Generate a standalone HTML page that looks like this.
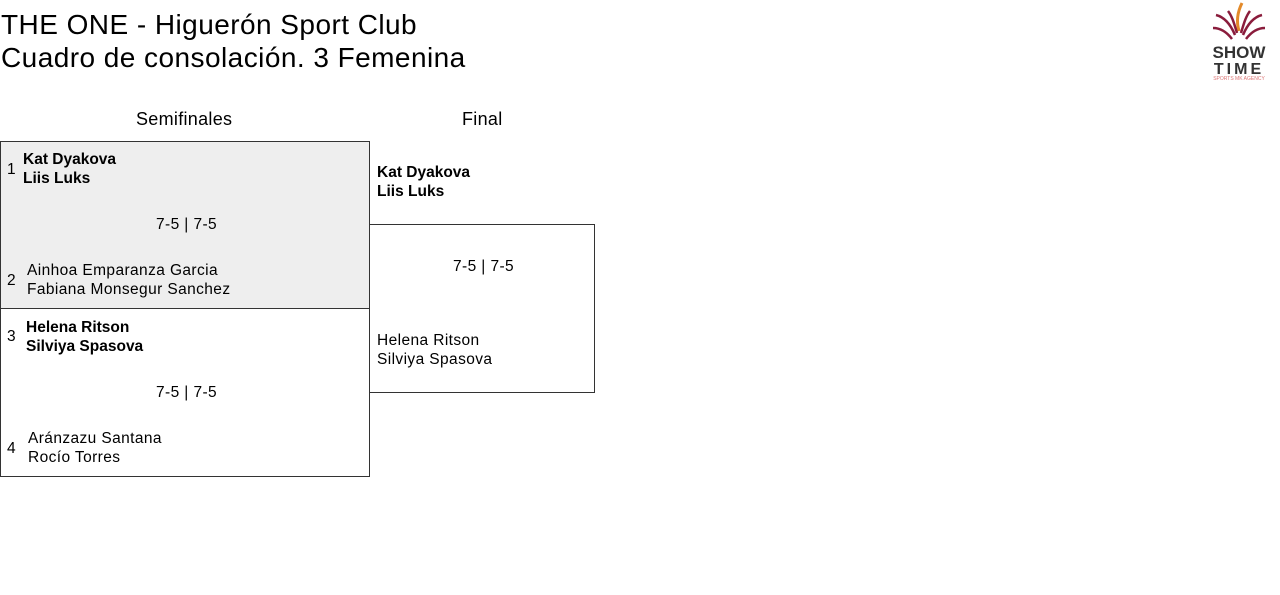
<!DOCTYPE html>
<html><head><meta charset="utf-8"><style>
body{margin:0;width:1280px;height:595px;background:#fff;font-family:"Liberation Sans",sans-serif;color:#000;position:relative;overflow:hidden}
.a{position:absolute;white-space:nowrap}
.t{font-size:28px;left:1px;line-height:33px;letter-spacing:0.45px}
.n{font-size:15.5px;line-height:19px;letter-spacing:0.4px}
.b{font-weight:bold;letter-spacing:0}
.h{font-size:18px;letter-spacing:0.3px}
.box{position:absolute;border:1px solid #333;box-sizing:border-box}
</style></head><body>
<div class="a t" style="top:8px">THE ONE - Higuerón Sport Club</div>
<div class="a t" style="top:41px">Cuadro de consolación. 3 Femenina</div>

<svg class="a" style="left:1208px;top:1px" width="62" height="80" viewBox="0 0 62 80">
<path d="M31 30 C28 20 30 10 34 2" stroke="#e38a2a" stroke-width="3" fill="none"/>
<path d="M27 34 C22 22 16 16 8 14" stroke="#8a1c3c" stroke-width="2.5" fill="none"/>
<path d="M24 38 C18 30 12 27 5 27" stroke="#8a1c3c" stroke-width="2.5" fill="none"/>
<path d="M29 32 C26 22 24 15 20 10" stroke="#8a1c3c" stroke-width="2.5" fill="none"/>
<path d="M35 34 C40 22 46 16 54 14" stroke="#8a1c3c" stroke-width="2.5" fill="none"/>
<path d="M38 38 C44 30 50 27 57 27" stroke="#8a1c3c" stroke-width="2.5" fill="none"/>
<path d="M33 32 C36 22 38 15 42 10" stroke="#8a1c3c" stroke-width="2.5" fill="none"/>
<text x="31" y="57" text-anchor="middle" font-family="Liberation Sans" font-weight="bold" font-size="17" fill="#333">SHOW</text>
<text x="31" y="73" text-anchor="middle" font-family="Liberation Sans" font-weight="bold" font-size="16" fill="#333" letter-spacing="3">TIME</text>
<text x="31" y="79" text-anchor="middle" font-family="Liberation Sans" font-size="5" fill="#d77">SPORTS MK AGENCY</text>
</svg>

<div class="a h" style="left:136px;top:109px">Semifinales</div>
<div class="a h" style="left:462px;top:109px">Final</div>

<div class="box" style="left:0;top:141px;width:370px;height:168px;background:#eee"></div>
<div class="box" style="left:0;top:308px;width:370px;height:169px"></div>
<div class="box" style="left:369px;top:224px;width:226px;height:169px"></div>

<div class="a n" style="left:7px;top:160px">1</div>
<div class="a n b" style="left:23px;top:150px">Kat Dyakova<br>Liis Luks</div>
<div class="a n" style="left:156px;top:215px">7-5 | 7-5</div>
<div class="a n" style="left:7px;top:271px">2</div>
<div class="a n" style="left:27px;top:261px">Ainhoa Emparanza Garcia<br>Fabiana Monsegur Sanchez</div>

<div class="a n" style="left:7px;top:327px">3</div>
<div class="a n b" style="left:26px;top:318px">Helena Ritson<br>Silviya Spasova</div>
<div class="a n" style="left:156px;top:383px">7-5 | 7-5</div>
<div class="a n" style="left:7px;top:439px">4</div>
<div class="a n" style="left:28px;top:429px">Aránzazu Santana<br>Rocío Torres</div>

<div class="a n b" style="left:377px;top:163px">Kat Dyakova<br>Liis Luks</div>
<div class="a n" style="left:453px;top:257px">7-5 | 7-5</div>
<div class="a n" style="left:377px;top:331px">Helena Ritson<br>Silviya Spasova</div>
</body></html>
